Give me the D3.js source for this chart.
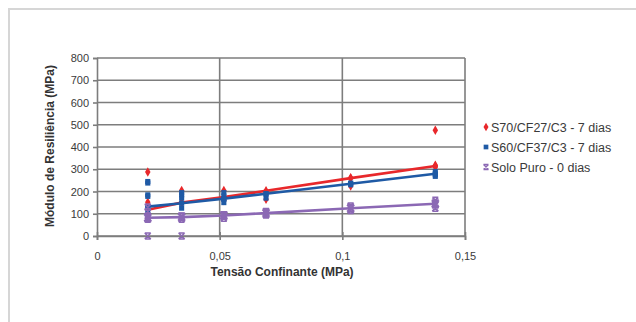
<!DOCTYPE html>
<html>
<head>
<meta charset="utf-8">
<script src="https://cdn.jsdelivr.net/npm/d3@7"></script>
<style>
  html, body { margin: 0; padding: 0; background: #fff; }
  svg { display: block; }
  text { font-family: "Liberation Sans", Arial, sans-serif; }
</style>
</head>
<body>
<svg id="chart" width="636" height="322"></svg>
<script>
// Confining stress levels (MPa)
const tensoes = [0.0207, 0.0345, 0.0517, 0.0689, 0.1034, 0.1379];

// Mean resilient modulus per stress level (MPa), drawn as lines
const mediaS70 = [118, 150, 175, 203, 260, 315];
const mediaS60 = [132, 147, 168, 190, 235, 280];
const mediaSolo = [82, 85, 92, 103, 125, 145];

// Individual specimen results: [confining stress, modulus]
const pontosS70 = [
  [0.0207, 288], [0.0207, 152], [0.0207, 118],
  [0.0345, 205], [0.0345, 150],
  [0.0517, 205], [0.0517, 160],
  [0.0689, 198], [0.0689, 165],
  [0.1034, 262], [0.1034, 225],
  [0.1379, 475], [0.1379, 318], [0.1379, 310]
];
const pontosS60 = [
  [0.0207, 245], [0.0207, 238], [0.0207, 185], [0.0207, 178], [0.0207, 125], [0.0207, 115],
  [0.0345, 195], [0.0345, 185], [0.0345, 170], [0.0345, 125],
  [0.0517, 195], [0.0517, 180], [0.0517, 165], [0.0517, 150],
  [0.0689, 190], [0.0689, 170],
  [0.1034, 238], [0.1034, 230],
  [0.1379, 290], [0.1379, 275], [0.1379, 268]
];
const pontosSolo = [
  [0.0207, 0], [0.0207, 75], [0.0207, 90], [0.0207, 110], [0.0207, 130],
  [0.0345, 0], [0.0345, 75], [0.0345, 90],
  [0.0517, 80], [0.0517, 95],
  [0.0689, 95], [0.0689, 110],
  [0.1034, 115], [0.1034, 135],
  [0.1379, 125], [0.1379, 140], [0.1379, 160]
];

const xTicks = [0, 0.05, 0.1, 0.15];
const xTickLabels = ["0", "0,05", "0,1", "0,15"];
const yTicks = [0, 100, 200, 300, 400, 500, 600, 700, 800];

const seriesNames = ["S70/CF27/C3 - 7 dias", "S60/CF37/C3 - 7 dias", "Solo Puro - 0 dias"];
const seriesColors = ["#e8282b", "#1f5aa5", "#8b68b4"];

const svg = d3.select("#chart");

// Outer chart frame
svg.append("path")
  .attr("d", "M9,322 V9 H636")
  .attr("fill", "none")
  .attr("stroke", "#d6d6d6")
  .attr("stroke-width", 2);

const x = d3.scaleLinear().domain([0, 0.15]).range([97, 465]);
const y = d3.scaleLinear().domain([0, 800]).range([236, 58]);

const gridColor = "#7d7d7d";

// Horizontal gridlines
svg.append("g")
  .selectAll("line")
  .data(yTicks)
  .join("line")
  .attr("x1", x(0)).attr("x2", x(0.15))
  .attr("y1", d => y(d)).attr("y2", d => y(d))
  .attr("stroke", gridColor).attr("stroke-width", 1.6);

// Vertical gridlines
svg.append("g")
  .selectAll("line")
  .data(xTicks.slice(1))
  .join("line")
  .attr("x1", d => x(d)).attr("x2", d => x(d))
  .attr("y1", y(0)).attr("y2", y(800))
  .attr("stroke", gridColor).attr("stroke-width", 1.6);

// Y axis
const yAxis = svg.append("g")
  .attr("transform", `translate(${x(0)},0)`)
  .call(d3.axisLeft(y).tickValues(yTicks).tickSize(4).tickPadding(4).tickFormat(d3.format("d")));
yAxis.select(".domain").attr("stroke", gridColor).attr("stroke-width", 1.6);
yAxis.selectAll(".tick line").attr("stroke", gridColor).attr("stroke-width", 1.6);
yAxis.selectAll("text").attr("font-size", 11).attr("fill", "#3a3a3a");

// X axis
const xAxis = svg.append("g")
  .attr("transform", `translate(0,${y(0)})`)
  .call(d3.axisBottom(x).tickValues(xTicks).tickSize(4).tickPadding(12)
    .tickFormat((d, i) => xTickLabels[i]));
xAxis.select(".domain").attr("stroke", gridColor).attr("stroke-width", 1.6);
xAxis.selectAll(".tick line").attr("y1", -4).attr("stroke", gridColor).attr("stroke-width", 1.6);
xAxis.selectAll("text").attr("font-size", 11).attr("fill", "#3a3a3a");

// Axis titles
svg.append("text")
  .attr("x", 282).attr("y", 276)
  .attr("text-anchor", "middle")
  .attr("font-size", 12).attr("font-weight", "bold").attr("fill", "#333")
  .text("Tensão Confinante (MPa)");

svg.append("text")
  .attr("transform", `translate(54,146) rotate(-90)`)
  .attr("text-anchor", "middle")
  .attr("font-size", 12).attr("font-weight", "bold").attr("fill", "#333")
  .text("Módulo de Resiliência (MPa)");

// Marker shapes
const diamond = d3.symbol().type(d3.symbolDiamond).size(26);
const square = d3.symbol().type(d3.symbolSquare).size(26);
function xMarkPath(s) {
  return `M${-s},${-s} H${s} M${-s},${s} H${s} M${-s},${-s} L${s},${s} M${s},${-s} L${-s},${s}`;
}

const line = d3.line().x((d, i) => x(tensoes[i])).y(d => y(d));

function drawSeries(points, means, color, kind) {
  const g = svg.append("g");
  if (kind === "x") {
    g.selectAll("path.pt")
      .data(points)
      .join("path")
      .attr("class", "pt")
      .attr("transform", d => `translate(${x(d[0])},${y(d[1])})`)
      .attr("d", xMarkPath(3))
      .attr("fill", "none").attr("stroke", color).attr("stroke-width", 1.6);
  } else {
    g.selectAll("path.pt")
      .data(points)
      .join("path")
      .attr("class", "pt")
      .attr("transform", d => `translate(${x(d[0])},${y(d[1])})`)
      .attr("d", kind === "diamond" ? diamond() : square())
      .attr("fill", color);
  }
  g.append("path")
    .datum(means)
    .attr("d", line)
    .attr("fill", "none")
    .attr("stroke", color)
    .attr("stroke-width", 2.6);
  if (kind === "x") {
    g.selectAll("path.mk")
      .data(means)
      .join("path")
      .attr("class", "mk")
      .attr("transform", (d, i) => `translate(${x(tensoes[i])},${y(d)})`)
      .attr("d", xMarkPath(3.5))
      .attr("fill", "none").attr("stroke", color).attr("stroke-width", 2);
  } else {
    g.selectAll("path.mk")
      .data(means)
      .join("path")
      .attr("class", "mk")
      .attr("transform", (d, i) => `translate(${x(tensoes[i])},${y(d)})`)
      .attr("d", kind === "diamond" ? diamond() : square())
      .attr("fill", color);
  }
}

drawSeries(pontosS70, mediaS70, seriesColors[0], "diamond");
drawSeries(pontosS60, mediaS60, seriesColors[1], "square");
drawSeries(pontosSolo, mediaSolo, seriesColors[2], "x");

// Legend
const kinds = ["diamond", "square", "x"];
const legend = svg.append("g");
seriesNames.forEach((name, i) => {
  const ly = 127 + i * 20;
  const lg = legend.append("g").attr("transform", `translate(486,${ly})`);
  if (kinds[i] === "x") {
    lg.append("path").attr("d", xMarkPath(2.5))
      .attr("fill", "none").attr("stroke", seriesColors[i]).attr("stroke-width", 1.3);
  } else {
    lg.append("path")
      .attr("d", d3.symbol().type(kinds[i] === "diamond" ? d3.symbolDiamond : d3.symbolSquare).size(22)())
      .attr("fill", seriesColors[i]);
  }
  lg.append("text")
    .attr("x", 5).attr("y", 4.5)
    .attr("font-size", 12.5).attr("fill", "#3a3a3a")
    .text(name);
});
</script>
</body>
</html>
